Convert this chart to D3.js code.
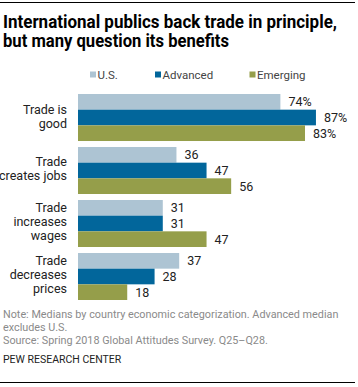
<!DOCTYPE html>
<html><head><meta charset="utf-8">
<script src="https://cdn.jsdelivr.net/npm/d3@7"></script>
<style>
body{margin:0;background:#fff;}
svg{display:block;}
</style></head>
<body>
<div id="chart"></div>
<script>
const categories = ["Trade is good", "Trade creates jobs", "Trade increases wages", "Trade decreases prices"];
const categoryLines = [["Trade is", "good"], ["Trade", "creates jobs"], ["Trade", "increases", "wages"], ["Trade", "decreases", "prices"]];
const seriesNames = ["U.S.", "Advanced", "Emerging"];
const usValues = [74, 36, 31, 37];
const advancedValues = [87, 47, 31, 28];
const emergingValues = [83, 56, 47, 18];
const seriesColors = ["#adc4d3", "#02669b", "#959e4a"];
const titleLines = ["International publics back trade in principle,", "but many question its benefits"];
const noteLines = ["Note: Medians by country economic categorization. Advanced median", "excludes U.S.", "Source: Spring 2018 Global Attitudes Survey. Q25\u2013Q28."];
const sourceLabel = "PEW RESEARCH CENTER";

const W = 358, H = 387;
const svg = d3.select("#chart").append("svg").attr("width", W).attr("height", H);
const font = "'Liberation Sans Narrow', 'Roboto', 'Liberation Sans', Arial, sans-serif";
const bodyFont = "'Roboto', 'Liberation Sans', Arial, sans-serif";

// rules
svg.append("line").attr("x1", 0).attr("x2", 355).attr("y1", 2.5).attr("y2", 2.5).attr("stroke", "#000").attr("stroke-width", 1);
svg.append("line").attr("x1", 0).attr("x2", 355).attr("y1", 382.5).attr("y2", 382.5).attr("stroke", "#000").attr("stroke-width", 1);

// title
const titleWidths = [334, 226];
titleLines.forEach((t, i) => {
  const tx = svg.append("text").attr("x", 3).attr("y", 28 + i * 18.5)
    .attr("font-family", font).attr("font-weight", "bold").attr("font-size", 17.5)
    .attr("fill", "#000").text(t);
  const len = tx.node().getComputedTextLength();
  if (Math.abs(len - titleWidths[i]) > 3) tx.attr("textLength", titleWidths[i]).attr("lengthAdjust", "spacingAndGlyphs");
});

// legend
const legendX = [90, 155, 249.5];
seriesNames.forEach((s, i) => {
  svg.append("rect").attr("x", legendX[i]).attr("y", 71.5).attr("width", 6).attr("height", 6).attr("fill", seriesColors[i]);
  svg.append("text").attr("x", legendX[i] + 7.5).attr("y", 78.5)
    .attr("font-family", bodyFont).attr("font-size", 11.5).attr("fill", "#444").text(s);
});

// scales
const x = d3.scaleLinear().domain([0, 100]).range([78, 78 + 273.5]);
const y0 = d3.scaleBand().domain(categories).range([94, 300]).paddingInner(0.113).paddingOuter(0);
const y1 = d3.scaleBand().domain(seriesNames).range([0, y0.bandwidth()]).padding(0);
const allSeries = [usValues, advancedValues, emergingValues];

const groups = svg.selectAll("g.grp").data(categories).join("g").attr("class", "grp")
  .attr("transform", d => `translate(0,${y0(d)})`);

groups.each(function(cat, ci) {
  const g = d3.select(this);
  seriesNames.forEach((s, si) => {
    const v = allSeries[si][ci];
    g.append("rect").attr("x", x(0)).attr("y", y1(s)).attr("width", x(v) - x(0)).attr("height", y1.bandwidth())
      .attr("fill", seriesColors[si]);
    g.append("text").attr("x", x(v) + 8).attr("y", y1(s) + y1.bandwidth() / 2 + 4.5)
      .attr("font-family", bodyFont).attr("font-size", 12.5).attr("fill", "#222")
      .text(ci === 0 ? v + "%" : v);
  });
  const lines = categoryLines[ci];
  const cy = y0.bandwidth() / 2 - 1.5 - (lines.length - 1) * 14 / 2;
  lines.forEach((l, li) => {
    g.append("text").attr("x", 67).attr("y", cy + li * 14 + 4.5).attr("text-anchor", "end")
      .attr("font-family", bodyFont).attr("font-size", 12.5).attr("fill", "#222").text(l);
  });
});

// notes
noteLines.forEach((t, i) => {
  svg.append("text").attr("x", 3).attr("y", 318 + i * 13)
    .attr("font-family", bodyFont).attr("font-size", 10.8).attr("fill", "#8a8a8a").text(t);
});
svg.append("text").attr("x", 3).attr("y", 363)
  .attr("font-family", bodyFont).attr("font-size", 10.5).attr("fill", "#222").text(sourceLabel);
</script>
</body></html>
